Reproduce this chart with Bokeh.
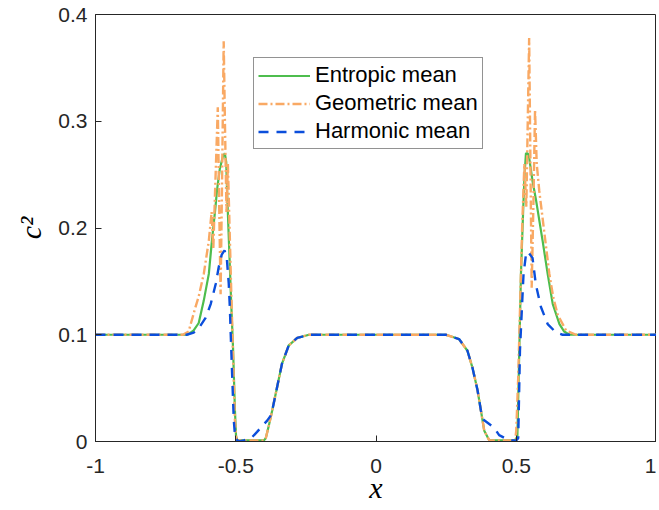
from bokeh.plotting import figure
from bokeh.models import Legend, LegendItem, Range1d, FixedTicker
from bokeh.embed import file_html
from bokeh.resources import INLINE

# ---------------- data ----------------
ent_x = [-1.0, -0.68, -0.668, -0.65, -0.632, -0.614, -0.596, -0.585, -0.5725, -0.567,
         -0.557, -0.546, -0.539, -0.534, -0.531, -0.524, -0.517, -0.5096, -0.503, -0.499,
         -0.494, -0.40, -0.393, -0.382, -0.370, -0.3525, -0.335, -0.311, -0.281, -0.239,
         0.249, 0.296, 0.326, 0.344, 0.362, 0.374, 0.386, 0.404, 0.496, 0.504, 0.507,
         0.511, 0.5168, 0.525, 0.5296, 0.5346, 0.541, 0.546, 0.558, 0.570, 0.594, 0.612,
         0.630, 0.654, 0.671, 0.689, 1.0]
ent_y = [0.1, 0.1, 0.1005, 0.104, 0.111, 0.132, 0.157, 0.188, 0.219, 0.235,
         0.255, 0.267, 0.27, 0.262, 0.235, 0.185, 0.135, 0.087, 0.03, 0.005,
         0.001, 0.001, 0.003, 0.015, 0.029, 0.051, 0.073, 0.090, 0.097, 0.100,
         0.100, 0.096, 0.085, 0.069, 0.048, 0.029, 0.010, 0.001, 0.001, 0.005, 0.04,
         0.087, 0.157, 0.219, 0.25, 0.27, 0.27, 0.266, 0.244, 0.227, 0.188, 0.157,
         0.129, 0.110, 0.103, 0.1, 0.1]

geo_x = [-1.0, -0.689, -0.668, -0.644, -0.632, -0.614, -0.596, -0.586, -0.580, -0.573,
         -0.564, -0.559, -0.554, -0.549, -0.543, -0.538, -0.533, -0.528, -0.523, -0.516,
         -0.509, -0.503, -0.498, -0.493, -0.40, -0.393, -0.382, -0.370, -0.3525, -0.335,
         -0.311, -0.281, -0.239, 0.249, 0.296, 0.326, 0.344, 0.362, 0.374, 0.386, 0.404,
         0.496, 0.500, 0.507, 0.514, 0.521, 0.529, 0.536, 0.541, 0.546, 0.551, 0.555,
         0.561, 0.567, 0.573, 0.582, 0.600, 0.618, 0.632, 0.6475, 0.6775, 0.713, 1.0]
geo_y = [0.1, 0.1, 0.103, 0.1255, 0.136, 0.157, 0.188, 0.215, 0.18, 0.24,
         0.313, 0.22, 0.138, 0.24, 0.375, 0.29, 0.215, 0.26, 0.21, 0.14,
         0.075, 0.02, 0.003, 0.001, 0.001, 0.003, 0.015, 0.029, 0.051, 0.073,
         0.090, 0.097, 0.100, 0.100, 0.096, 0.085, 0.069, 0.048, 0.029, 0.010, 0.001,
         0.001, 0.01, 0.06, 0.13, 0.2, 0.26, 0.22, 0.30, 0.378, 0.25, 0.144,
         0.22, 0.311, 0.26, 0.235, 0.196, 0.157, 0.135, 0.119, 0.104, 0.1, 0.1]

har_x = [-1.0, -0.675, -0.65, -0.632, -0.607, -0.589, -0.571, -0.561, -0.55, -0.540,
         -0.532, -0.525, -0.521, -0.518, -0.5125, -0.507, -0.502, -0.489, -0.471, -0.442,
         -0.424, -0.388, -0.376, -0.370, -0.3525, -0.335, -0.311, -0.281, -0.239, 0.249,
         0.296, 0.326, 0.344, 0.362, 0.374, 0.380, 0.421, 0.439, 0.475, 0.500, 0.507,
         0.5132, 0.5204, 0.526, 0.5346, 0.5404, 0.558, 0.570, 0.588, 0.612, 0.642, 0.665, 1.0]
har_y = [0.1, 0.1, 0.102, 0.106, 0.116, 0.129, 0.148, 0.163, 0.175, 0.179,
         0.172, 0.148, 0.125, 0.101, 0.06, 0.02, 0.003, 0.0, 0.001, 0.004,
         0.009, 0.0196, 0.024, 0.029, 0.051, 0.073, 0.090, 0.097, 0.100, 0.100,
         0.096, 0.085, 0.069, 0.048, 0.029, 0.021, 0.013, 0.006, 0.001, 0.001, 0.003,
         0.085, 0.126, 0.157, 0.175, 0.178, 0.172, 0.147, 0.126, 0.11, 0.102, 0.1, 0.1]

x_ticks = [-1, -0.5, 0, 0.5, 1]
x_tick_labels = {-1: "-1", -0.5: "-0.5", 0: "0", 0.5: "0.5", 1: "1"}
y_ticks = [0, 0.1, 0.2, 0.3, 0.4]
y_tick_labels = {0: "0", 0.1: "0.1", 0.2: "0.2", 0.3: "0.3", 0.4: "0.4"}
series_names = ["Entropic mean", "Geometric mean", "Harmonic mean"]

# ---------------- figure ----------------
TXT = "#262626"
p = figure(frame_width=561, frame_height=427, output_backend="svg", toolbar_location=None,
           x_range=Range1d(-1, 1), y_range=Range1d(0, 0.4),
           min_border_left=95, min_border_right=0, min_border_top=14, min_border_bottom=55)
p.background_fill_color = "white"
p.border_fill_color = "white"
p.outline_line_color = TXT
p.outline_line_width = 1
p.xgrid.visible = False
p.ygrid.visible = False

GREEN = "#4DBD4D"
ORANGE = "#F9A964"
BLUE = "#0B4EDB"

r1 = p.line(ent_x, ent_y, line_color=GREEN, line_width=2.2)
r2 = p.line(geo_x, geo_y, line_color=ORANGE, line_width=2.4, line_dash="9 3 2 3")
r3 = p.line(har_x, har_y, line_color=BLUE, line_width=2.4, line_dash="10 8")

for ax in (p.xaxis[0], p.yaxis[0]):
    ax.axis_line_color = TXT
    ax.major_tick_line_color = TXT
    ax.major_tick_in = 6
    ax.major_tick_out = 0
    ax.minor_tick_line_color = None
    ax.major_label_text_font = "Liberation Sans"
    ax.major_label_text_font_size = "21px"
    ax.major_label_text_color = TXT
    ax.axis_label_text_font = "Liberation Serif"
    ax.axis_label_text_font_style = "italic"
    ax.axis_label_text_font_size = "30px"
    ax.axis_label_text_color = "black"

p.xaxis.ticker = FixedTicker(ticks=x_ticks)
p.xaxis.major_label_overrides = x_tick_labels
p.yaxis.ticker = FixedTicker(ticks=y_ticks)
p.yaxis.major_label_overrides = y_tick_labels
p.xaxis.axis_label = "x"
p.yaxis.axis_label = "c\u00b2"
p.xaxis.major_label_standoff = 17
p.xaxis.axis_label_standoff = -5
p.yaxis.major_label_standoff = 8
p.yaxis.axis_label_standoff = 8

legend = Legend(items=[LegendItem(label=series_names[0], renderers=[r1]),
                       LegendItem(label=series_names[1], renderers=[r2]),
                       LegendItem(label=series_names[2], renderers=[r3])],
                location=(158, 292))
legend.label_text_font = "Liberation Sans"
legend.label_text_font_size = "22px"
legend.label_text_color = "black"
legend.glyph_width = 52
legend.glyph_height = 25
legend.label_height = 25
legend.spacing = 2
legend.padding = 4
legend.margin = 0
legend.label_standoff = 5
legend.border_line_color = TXT
legend.border_line_width = 1
legend.background_fill_color = "white"
legend.background_fill_alpha = 1
p.add_layout(legend)

open("out.html", "w").write(file_html(p, INLINE))
